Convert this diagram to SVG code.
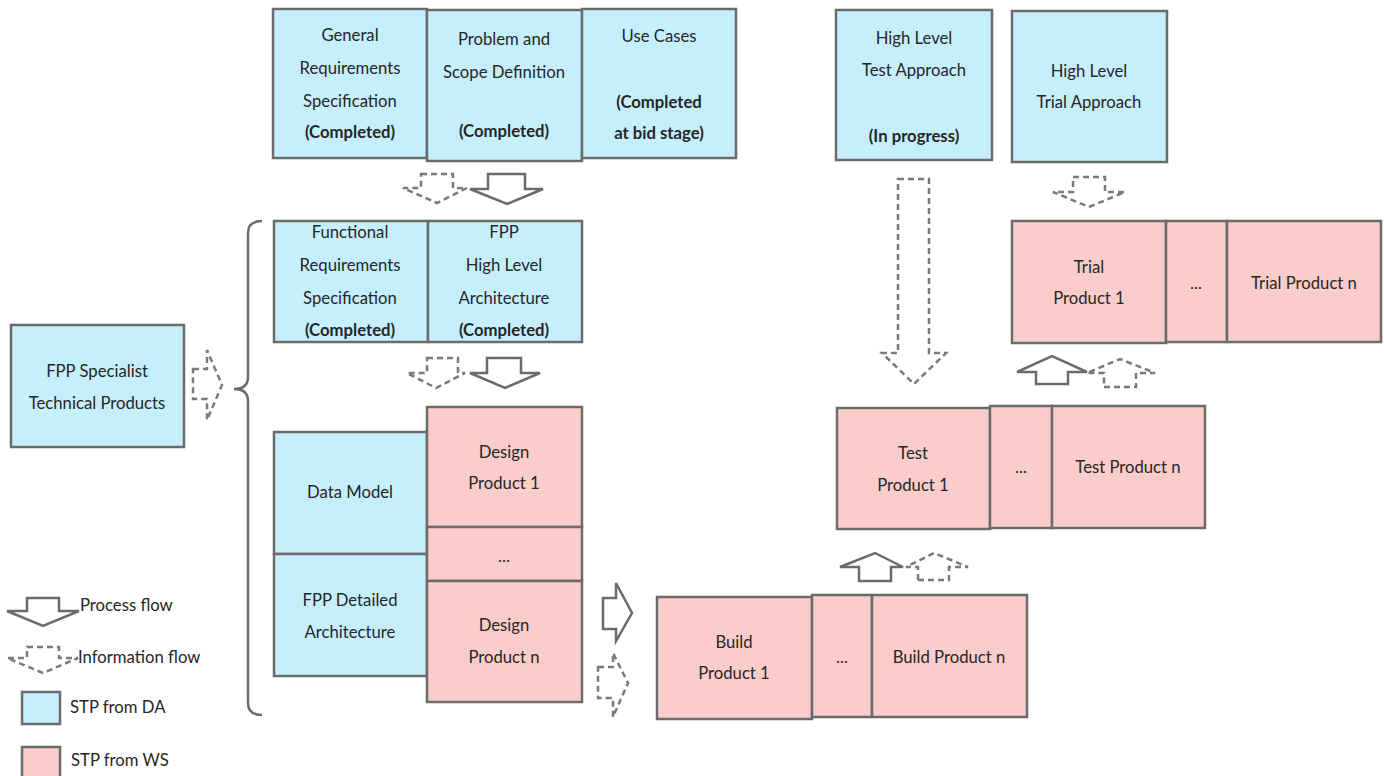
<svg xmlns="http://www.w3.org/2000/svg" width="1384" height="776" viewBox="0 0 1384 776">
  <style>
    .box { stroke: #6b6b6b; stroke-width: 2.5; }
    .da { fill: #c6effd; }
    .ws { fill: #fbcdca; }
    .t { font-family: Lato, "Liberation Sans", sans-serif; font-size: 16.7px; fill: #262626; text-anchor: middle; dominant-baseline: central; }
    .b { font-weight: bold; }
    .l { text-anchor: start; }
    .solid { fill: #ffffff; stroke: #6b6b6b; stroke-width: 2.5; stroke-linejoin: miter; }
    .dash { fill: #ffffff; stroke: #7a7a7a; stroke-width: 2.5; stroke-dasharray: 6 4; }
    .brace { fill: none; stroke: #6b6b6b; stroke-width: 2.5; }
  </style>
  <rect width="1384" height="776" fill="#ffffff"/>

  <!-- top row: requirements inputs -->
  <g id="general-requirements">
    <rect class="box da" x="273" y="9" width="154" height="149"/>
    <text class="t" x="350" y="35">General</text>
    <text class="t" x="350" y="68">Requirements</text>
    <text class="t" x="350" y="101">Specification</text>
    <text class="t b" x="350" y="132">(Completed)</text>
  </g>
  <g id="problem-scope">
    <rect class="box da" x="427" y="10" width="155" height="151"/>
    <text class="t" x="504" y="39">Problem and</text>
    <text class="t" x="504" y="72">Scope Definition</text>
    <text class="t b" x="504" y="131">(Completed)</text>
  </g>
  <g id="use-cases">
    <rect class="box da" x="582" y="9" width="154" height="149"/>
    <text class="t" x="659" y="36">Use Cases</text>
    <text class="t b" x="659" y="102">(Completed</text>
    <text class="t b" x="659" y="133">at bid stage)</text>
  </g>

  <g id="test-approach">
    <rect class="box da" x="836" y="10" width="156" height="150"/>
    <text class="t" x="914" y="38">High Level</text>
    <text class="t" x="914" y="70">Test Approach</text>
    <text class="t b" x="914" y="136">(In progress)</text>
  </g>
  <g id="trial-approach">
    <rect class="box da" x="1012" y="11" width="155" height="151"/>
    <text class="t" x="1089" y="71">High Level</text>
    <text class="t" x="1089" y="102">Trial Approach</text>
  </g>

  <!-- second row -->
  <g id="functional-requirements">
    <rect class="box da" x="274" y="221" width="154" height="121"/>
    <text class="t" x="350" y="232">Functional</text>
    <text class="t" x="350" y="265">Requirements</text>
    <text class="t" x="350" y="298">Specification</text>
    <text class="t b" x="350" y="330">(Completed)</text>
  </g>
  <g id="fpp-high-level-architecture">
    <rect class="box da" x="428" y="221" width="154" height="121"/>
    <text class="t" x="504" y="232">FPP</text>
    <text class="t" x="504" y="265">High Level</text>
    <text class="t" x="504" y="298">Architecture</text>
    <text class="t b" x="504" y="330">(Completed)</text>
  </g>

  <g id="fpp-specialist">
    <rect class="box da" x="11" y="325" width="173" height="122"/>
    <text class="t" x="97" y="371">FPP Specialist</text>
    <text class="t" x="97" y="403">Technical Products</text>
  </g>

  <!-- design stage -->
  <g id="data-model">
    <rect class="box da" x="274" y="432" width="153" height="122"/>
    <text class="t" x="350" y="492">Data Model</text>
  </g>
  <g id="fpp-detailed-architecture">
    <rect class="box da" x="274" y="554" width="153" height="122"/>
    <text class="t" x="350" y="600">FPP Detailed</text>
    <text class="t" x="350" y="632">Architecture</text>
  </g>
  <g id="design-product-1">
    <rect class="box ws" x="427" y="407" width="155" height="120"/>
    <text class="t" x="504" y="452">Design</text>
    <text class="t" x="504" y="483">Product 1</text>
  </g>
  <g id="design-product-more">
    <rect class="box ws" x="427" y="527" width="155" height="54"/>
    <text class="t" x="504" y="556">...</text>
  </g>
  <g id="design-product-n">
    <rect class="box ws" x="427" y="581" width="155" height="121"/>
    <text class="t" x="504" y="625">Design</text>
    <text class="t" x="504" y="657">Product n</text>
  </g>

  <!-- build stage -->
  <g id="build-product-1">
    <rect class="box ws" x="657" y="597" width="155" height="122"/>
    <text class="t" x="734" y="642">Build</text>
    <text class="t" x="734" y="673">Product 1</text>
  </g>
  <g id="build-product-more">
    <rect class="box ws" x="812" y="595" width="60" height="122"/>
    <text class="t" x="842" y="657">...</text>
  </g>
  <g id="build-product-n">
    <rect class="box ws" x="872" y="595" width="155" height="122"/>
    <text class="t" x="949" y="657">Build Product n</text>
  </g>

  <!-- test stage -->
  <g id="test-product-1">
    <rect class="box ws" x="837" y="408" width="153" height="121"/>
    <text class="t" x="913" y="453">Test</text>
    <text class="t" x="913" y="485">Product 1</text>
  </g>
  <g id="test-product-more">
    <rect class="box ws" x="990" y="406" width="62" height="122"/>
    <text class="t" x="1021" y="467">...</text>
  </g>
  <g id="test-product-n">
    <rect class="box ws" x="1052" y="406" width="153" height="122"/>
    <text class="t" x="1128" y="467">Test Product n</text>
  </g>

  <!-- trial stage -->
  <g id="trial-product-1">
    <rect class="box ws" x="1012" y="221" width="154" height="122"/>
    <text class="t" x="1089" y="267">Trial</text>
    <text class="t" x="1089" y="298">Product 1</text>
  </g>
  <g id="trial-product-more">
    <rect class="box ws" x="1166" y="221" width="61" height="121"/>
    <text class="t" x="1196" y="283">...</text>
  </g>
  <g id="trial-product-n">
    <rect class="box ws" x="1227" y="221" width="154" height="121"/>
    <text class="t" x="1304" y="283">Trial Product n</text>
  </g>

  <!-- flows -->
  <g id="connectors">
    <path class="brace" d="M262,221 Q248,221 248,233 L248,377 Q248,389 234,389 Q248,389 248,401 L248,703 Q248,715 262,715"/>

    <!-- top row to second row -->
    <polygon class="dash" points="421,174 453,174 453,188 467,188 437,203 403,188 421,188"/>
    <polygon class="solid" points="488,174 525,174 525,189 543,189 507,204 470,189 488,189"/>

    <!-- second row to design stage -->
    <polygon class="dash" points="427,358 458,358 458,373 465,373 436,388 407,373 427,373"/>
    <polygon class="solid" points="487,358 521,358 521,373 540,373 505,388 470,373 487,373"/>

    <!-- specialist products into design -->
    <polygon class="dash" points="193,369 207,369 207,350 222,385 207,420 207,399 193,399"/>

    <!-- design to build -->
    <polygon class="solid" points="603,598 616,598 616,583 632,613 616,641 616,629 603,629"/>
    <polygon class="dash" points="598,667 613,667 613,653 628,683 613,717 613,698 598,698"/>

    <!-- build to test -->
    <polygon class="solid" points="859,581 891,581 891,567 903,567 875,553 840,567 859,567"/>
    <polygon class="dash" points="918,580 949,580 949,567 968,567 934,553 906,567 918,567"/>

    <!-- test approach to test -->
    <polygon class="dash" points="898,179 929,179 929,353 946,353 914,384 882,353 898,353"/>

    <!-- trial approach to trial -->
    <polygon class="dash" points="1073,177 1105,177 1105,192 1125,192 1089,207 1053,192 1073,192"/>

    <!-- test to trial -->
    <polygon class="solid" points="1036,384 1068,384 1068,372 1087,372 1052,356 1017,372 1036,372"/>
    <polygon class="dash" points="1104,387 1136,387 1136,373 1155,373 1120,359 1087,373 1104,373"/>
  </g>

  <!-- legend -->
  <g id="legend">
    <polygon class="solid" points="27,598 59,598 59,611 79,611 43,626 7,611 27,611"/>
    <text class="t l" x="80" y="605">Process flow</text>
    <polygon class="dash" points="27,647 59,647 59,658 78,658 43,673 7,658 27,658"/>
    <text class="t l" x="78" y="657">Information flow</text>
    <rect class="box da" x="22" y="692" width="38" height="32"/>
    <text class="t l" x="70" y="707">STP from DA</text>
    <rect class="box ws" x="22" y="747" width="38" height="40"/>
    <text class="t l" x="71" y="760">STP from WS</text>
  </g>
</svg>
